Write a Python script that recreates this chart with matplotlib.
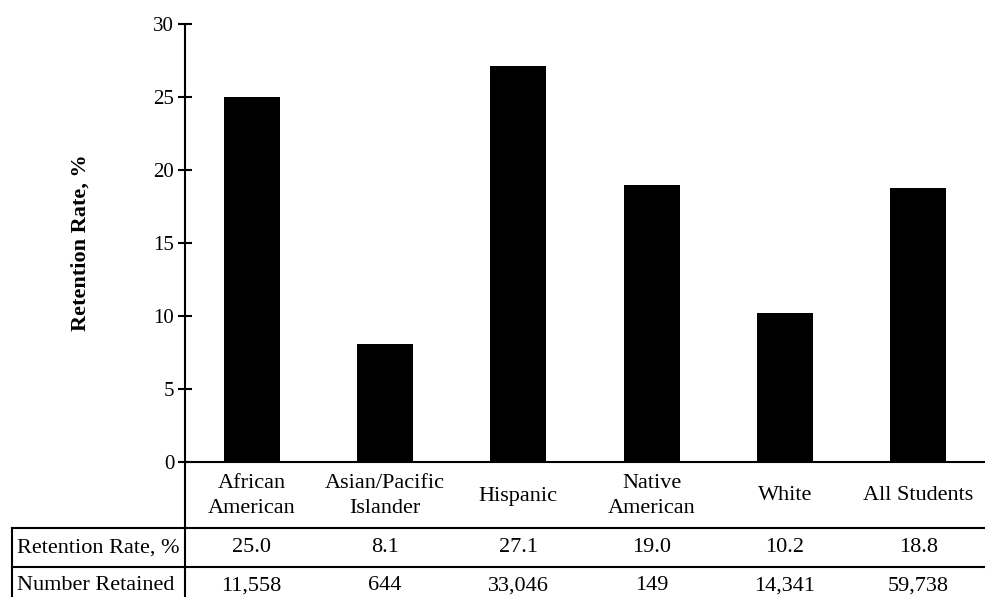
import matplotlib
matplotlib.use("Agg")
import matplotlib.pyplot as plt
from matplotlib.lines import Line2D
import matplotlib.transforms as mtransforms

plt.rcParams['font.family'] = ['Liberation Serif', 'DejaVu Serif']

# data
categories = ["African\nAmerican", "Asian/Pacific\nIslander", "Hispanic",
              "Native\nAmerican", "White", "All Students"]
retention_rate = [25.0, 8.1, 27.1, 19.0, 10.2, 18.8]
number_retained = ["11,558", "644", "33,046", "149", "14,341", "59,738"]
row_labels = ["Retention Rate, %", "Number Retained"]
y_ticks = [0, 5, 10, 15, 20, 25, 30]

W, H = 985, 597
fig = plt.figure(figsize=(W / 100, H / 100), dpi=100)

# axes placed in pixel layout
x0, x1 = 185, 985
y_top, y_zero = 24, 462
ax = fig.add_axes([x0 / W, (H - y_zero) / H, (x1 - x0) / W, (y_zero - y_top) / H])

xpos = list(range(len(categories)))
ax.bar(xpos, retention_rate, width=0.42, color="black")
ax.set_xlim(-0.5, len(categories) - 0.5)
ax.set_ylim(0, 30)
ax.set_yticks(y_ticks)
ax.set_xticks([])

for s in ["top", "right"]:
    ax.spines[s].set_visible(False)
ax.spines["left"].set_linewidth(1.5)
ax.spines["bottom"].set_linewidth(1.5)
ax.tick_params(axis="y", direction="inout", length=9.5, width=1.5, labelsize=15, pad=3)

ax.set_ylabel("Retention Rate, %", fontsize=16, fontweight="bold")
ax.yaxis.set_label_coords((91 - x0) / (x1 - x0), 0.5)

# table text, x in data coords, y in pixel-derived axes coords
trans = mtransforms.blended_transform_factory(ax.transData, ax.transAxes)
def ay(py):
    return (y_zero - py) / (y_zero - y_top)

for i, cat in enumerate(categories):
    ax.text(i, ay(496), cat, transform=trans, ha="center", va="center",
            fontsize=16, linespacing=1.45, clip_on=False)
    ax.text(i, ay(548), f"{retention_rate[i]:.1f}", transform=trans,
            ha="center", va="center", fontsize=16, clip_on=False)
    ax.text(i, ay(586), number_retained[i], transform=trans,
            ha="center", va="center", fontsize=16, clip_on=False)

for py, lab in zip([548, 586], row_labels):
    fig.text(17 / W, (H - py) / H, lab, ha="left", va="center", fontsize=16)

# table grid lines
def fline(xa, xb, ya, yb):
    fig.add_artist(Line2D([xa / W, xb / W], [(H - ya) / H, (H - yb) / H],
                          color="black", linewidth=1.5, transform=fig.transFigure))

fline(12, 985, 528, 528)
fline(12, 985, 567, 567)
fline(12, 12, 528, 597)
fline(185, 185, 462, 597)

fig.savefig("out.png", dpi=100)
